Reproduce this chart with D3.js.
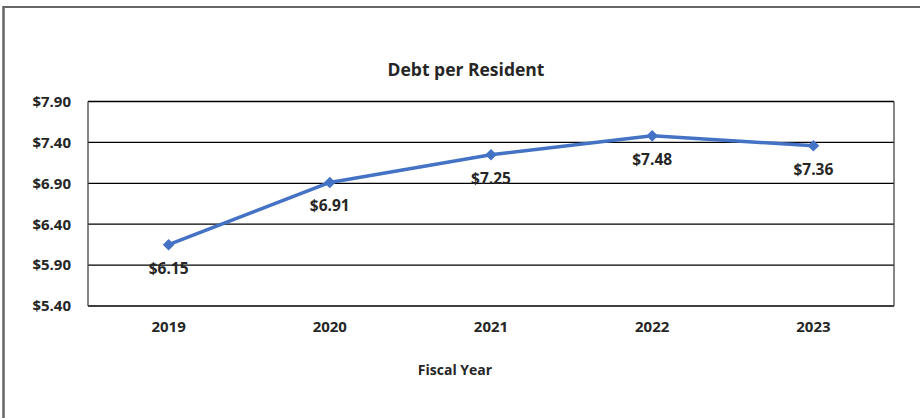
<!DOCTYPE html>
<html>
<head>
<meta charset="utf-8">
<script src="https://cdn.jsdelivr.net/npm/d3@7"></script>
<style>
  html, body { margin: 0; padding: 0; background: #fff; }
  svg { display: block; }
  text { font-family: "Open Sans", "Noto Sans", sans-serif; font-weight: bold; fill: #262626; }
</style>
</head>
<body>
<script>
const years = ["2019", "2020", "2021", "2022", "2023"];
const debtPerResident = [6.15, 6.91, 7.25, 7.48, 7.36];
const yTicks = [5.40, 5.90, 6.40, 6.90, 7.40, 7.90];
const chartTitle = "Debt per Resident";
const xAxisTitle = "Fiscal Year";

const W = 920, H = 418;
const margin = { left: 88, right: 26, top: 101.5, bottom: 112 };

const svg = d3.select("body").append("svg").attr("width", W).attr("height", H);

// outer frame (top and left edges visible)
svg.append("line").attr("x1", 3.5).attr("x2", W).attr("y1", 7).attr("y2", 7)
  .attr("stroke", "#666").attr("stroke-width", 2);
svg.append("line").attr("x1", 3.5).attr("x2", 3.5).attr("y1", 6).attr("y2", H)
  .attr("stroke", "#666").attr("stroke-width", 2.5);

const x = d3.scaleBand().domain(years).range([margin.left, W - margin.right]);
const y = d3.scaleLinear().domain([5.40, 7.90]).range([H - margin.bottom, margin.top]);

// gridlines
svg.append("g").selectAll("line").data(yTicks).join("line")
  .attr("x1", margin.left).attr("x2", W - margin.right)
  .attr("y1", d => y(d)).attr("y2", d => y(d))
  .attr("stroke", "#000").attr("stroke-width", 1.3);

// plot border verticals
svg.append("line").attr("x1", margin.left).attr("x2", margin.left)
  .attr("y1", y(7.90)).attr("y2", y(5.40)).attr("stroke", "#444").attr("stroke-width", 1.3);
svg.append("line").attr("x1", W - margin.right).attr("x2", W - margin.right)
  .attr("y1", y(7.90)).attr("y2", y(5.40)).attr("stroke", "#444").attr("stroke-width", 1.3);

// y axis labels
const yAxis = d3.axisLeft(y).tickValues(yTicks).tickSize(0).tickPadding(17)
  .tickFormat(d => "$" + d3.format(".2f")(d));
const gy = svg.append("g").attr("transform", `translate(${margin.left},0)`).call(yAxis);
gy.select(".domain").remove();
gy.selectAll("text").attr("font-size", 15).attr("font-family", null).attr("fill", null);

// x axis labels
const xAxis = d3.axisBottom(x).tickSize(0).tickPadding(15);
const gx = svg.append("g").attr("transform", `translate(0,${y(5.40)})`).call(xAxis);
gx.select(".domain").remove();
gx.selectAll("text").attr("font-size", 15).attr("font-family", null).attr("fill", null);

const cx = d => x(d) + x.bandwidth() / 2;

// line
const line = d3.line().x((d, i) => cx(years[i])).y(d => y(d));
svg.append("path").datum(debtPerResident).attr("d", line)
  .attr("fill", "none").attr("stroke", "#4472C4").attr("stroke-width", 3.5)
  .attr("stroke-linejoin", "round");

// markers
svg.append("g").selectAll("path").data(debtPerResident).join("path")
  .attr("d", d3.symbol().type(d3.symbolDiamond2).size(85))
  .attr("transform", (d, i) => `translate(${cx(years[i])},${y(d)})`)
  .attr("fill", "#4472C4");

// data labels
svg.append("g").selectAll("text").data(debtPerResident).join("text")
  .attr("x", (d, i) => cx(years[i]))
  .attr("y", d => y(d) + 29)
  .attr("text-anchor", "middle").attr("font-size", 15.5)
  .text(d => "$" + d3.format(".2f")(d));

// titles
svg.append("text").attr("x", 466).attr("y", 76).attr("text-anchor", "middle")
  .attr("font-size", 17.5).text(chartTitle);
svg.append("text").attr("x", 455).attr("y", 375).attr("text-anchor", "middle")
  .attr("font-size", 14).text(xAxisTitle);
</script>
</body>
</html>
